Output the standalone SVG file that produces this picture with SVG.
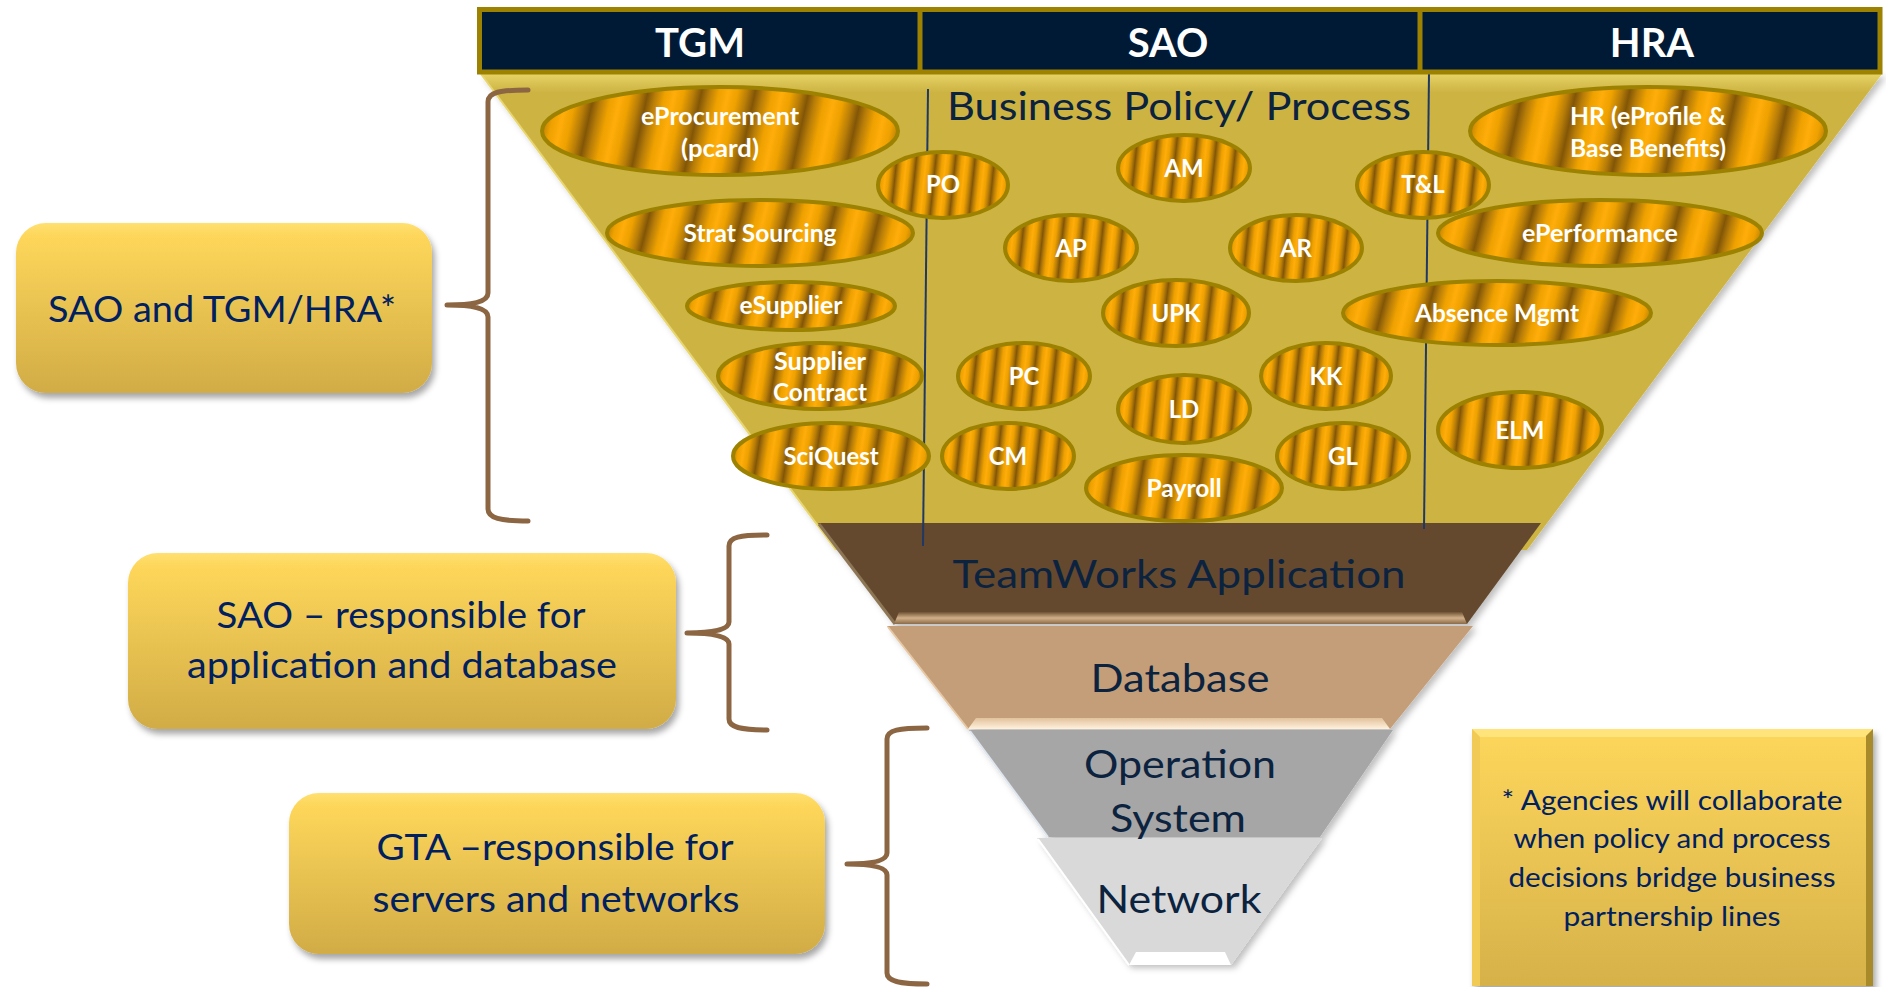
<svg xmlns="http://www.w3.org/2000/svg" width="1886" height="987" viewBox="0 0 1886 987">
<defs>
  <linearGradient id="metal" x1="0" y1="0" x2="0.075" y2="0.004" spreadMethod="reflect">
    <stop offset="0" stop-color="#825607"/>
    <stop offset="0.3" stop-color="#b97e08"/>
    <stop offset="0.65" stop-color="#eea100"/>
    <stop offset="1" stop-color="#ffad0a"/>
  </linearGradient>
  <linearGradient id="goldFunnel" gradientUnits="userSpaceOnUse" x1="0" y1="74" x2="0" y2="92">
    <stop offset="0" stop-color="#e6d266"/>
    <stop offset="1" stop-color="#cdb443"/>
  </linearGradient>
  <linearGradient id="boxg" x1="0" y1="0" x2="0" y2="1">
    <stop offset="0" stop-color="#ffe070"/>
    <stop offset="0.08" stop-color="#fdd65a"/>
    <stop offset="1" stop-color="#d1ac46"/>
  </linearGradient>
  <linearGradient id="noteg" x1="0" y1="0" x2="0" y2="1">
    <stop offset="0" stop-color="#fdd75b"/>
    <stop offset="1" stop-color="#d6b14a"/>
  </linearGradient>
  <linearGradient id="brownBevel" x1="0" y1="0" x2="0" y2="1">
    <stop offset="0" stop-color="#6e5234"/>
    <stop offset="0.5" stop-color="#d2b08a"/>
    <stop offset="1" stop-color="#8a6a48"/>
  </linearGradient>
  <linearGradient id="dbBevel" x1="0" y1="0" x2="0" y2="1">
    <stop offset="0" stop-color="#e2c29c"/>
    <stop offset="1" stop-color="#fff1dc"/>
  </linearGradient>
  <filter id="shadow" x="-10%" y="-10%" width="130%" height="140%">
    <feDropShadow dx="3" dy="5" stdDeviation="3" flood-color="#000" flood-opacity="0.35"/>
  </filter>
  <filter id="fshadow" x="-5%" y="-5%" width="115%" height="115%">
    <feDropShadow dx="4" dy="3" stdDeviation="3" flood-color="#000" flood-opacity="0.25"/>
  </filter>
  <style>
    .hdr { font-family: Lato, "Liberation Sans", sans-serif; font-weight: bold; font-size: 40px; fill: #ffffff; text-anchor: middle; }
    .lay { font-family: Lato, "Liberation Sans", sans-serif; font-size: 39px; fill: #0c2340; text-anchor: middle; }
    .ell { fill: url(#metal); stroke: #9c8200; stroke-width: 4; }
    .et { font-family: Lato, "Liberation Sans", sans-serif; font-weight: bold; font-size: 24px; fill: #ffffff; text-anchor: middle; }
    .box { fill: url(#boxg); filter: url(#shadow); }
    .bt { font-family: Lato, "Liberation Sans", sans-serif; font-size: 36px; fill: #002060; text-anchor: middle; }
    .nt { font-family: Lato, "Liberation Sans", sans-serif; font-size: 26px; fill: #002060; text-anchor: middle; }
    .brace { fill: none; stroke: #8c6642; stroke-width: 5; stroke-linecap: round; stroke-linejoin: round; }
    .vline { stroke: #1f3864; stroke-width: 2; }
  </style>
</defs>

<rect width="1886" height="987" fill="#ffffff"/>

<!-- Funnel layers -->
<g id="funnel" filter="url(#fshadow)">
  <g id="layer-business">
    <polygon points="481,74 1882,74 1527,550 836,550" fill="url(#goldFunnel)"/>
    <line x1="481" y1="74" x2="836" y2="550" stroke="#e8d670" stroke-width="2"/>
  </g>
  <g id="layer-application">
    <polygon points="818,523 1541,523 1467,624 894,624" fill="#654a2e"/>
    <line x1="819" y1="524" x2="895" y2="624" stroke="#8d7656" stroke-width="3"/>
    <polygon points="899,612 1462,612 1467,624 894,624" fill="url(#brownBevel)"/>
  </g>
  <g id="layer-database">
    <polygon points="887,626 1473,626 1390,729 968,729" fill="#c49e78"/>
    <line x1="888" y1="627" x2="968" y2="729" stroke="#e6c8a4" stroke-width="2"/>
    <polygon points="976,718 1382,718 1390,729 968,729" fill="url(#dbBevel)"/>
  </g>
  <g id="layer-os">
    <polygon points="969,730 1393,730 1320,837 1048,837" fill="#a6a6a6"/>
    <line x1="970" y1="731" x2="1048" y2="837" stroke="#dfe6ee" stroke-width="2"/>
  </g>
  <g id="layer-network">
    <polygon points="1037,838 1322,838 1231,965 1129,965" fill="#d9d9d9"/>
    <line x1="1038" y1="839" x2="1129" y2="965" stroke="#ffffff" stroke-width="2"/>
    <polygon points="1136,952 1225,952 1231,965 1129,965" fill="#ffffff"/>
  </g>
</g>

<!-- Partnership lines -->
<g id="partnership-lines">
  <line class="vline" x1="928" y1="89" x2="923" y2="546"/>
  <line class="vline" x1="1429" y1="73" x2="1424" y2="529"/>
</g>

<!-- Header -->
<g id="header">
  <rect x="479.5" y="9.5" width="1400.5" height="62.5" fill="#001a35" stroke="#9c8200" stroke-width="5"/>
  <line x1="920" y1="9" x2="920" y2="72" stroke="#9c8200" stroke-width="5"/>
  <line x1="1420" y1="9" x2="1420" y2="72" stroke="#9c8200" stroke-width="5"/>
  <text class="hdr" x="700" y="57">TGM</text>
  <text class="hdr" x="1168" y="57">SAO</text>
  <text class="hdr" x="1652" y="57">HRA</text>
</g>

<!-- Layer labels -->
<g id="layer-labels">
  <text class="lay" x="1179" y="120" textLength="464" lengthAdjust="spacingAndGlyphs">Business Policy/ Process</text>
  <text class="lay" x="1179" y="588" textLength="453" lengthAdjust="spacingAndGlyphs">TeamWorks Application</text>
  <text class="lay" x="1180" y="692" textLength="179" lengthAdjust="spacingAndGlyphs">Database</text>
  <text class="lay" x="1180" y="778" textLength="192" lengthAdjust="spacingAndGlyphs">Operation</text>
  <text class="lay" x="1178" y="832" textLength="136" lengthAdjust="spacingAndGlyphs">System</text>
  <text class="lay" x="1179" y="913" textLength="165" lengthAdjust="spacingAndGlyphs">Network</text>
</g>

<!-- Process ellipses -->
<g id="n-eprocurement"><ellipse class="ell" cx="720" cy="131" rx="178" ry="44"/>
  <text class="et" x="720" y="125" textLength="158" lengthAdjust="spacingAndGlyphs">eProcurement</text>
  <text class="et" x="720" y="157" textLength="78" lengthAdjust="spacingAndGlyphs">(pcard)</text></g>
<g id="n-stratsourcing"><ellipse class="ell" cx="760" cy="233" rx="153" ry="33"/>
  <text class="et" x="760" y="242" textLength="153" lengthAdjust="spacingAndGlyphs">Strat Sourcing</text></g>
<g id="n-esupplier"><ellipse class="ell" cx="791" cy="306" rx="104" ry="24"/>
  <text class="et" x="791" y="314" textLength="103" lengthAdjust="spacingAndGlyphs">eSupplier</text></g>
<g id="n-suppliercontract"><ellipse class="ell" cx="820" cy="376" rx="102" ry="33"/>
  <text class="et" x="820" y="370" textLength="92" lengthAdjust="spacingAndGlyphs">Supplier</text>
  <text class="et" x="820" y="401" textLength="94" lengthAdjust="spacingAndGlyphs">Contract</text></g>
<g id="n-sciquest"><ellipse class="ell" cx="831" cy="456" rx="98" ry="33"/>
  <text class="et" x="831" y="465" textLength="95" lengthAdjust="spacingAndGlyphs">SciQuest</text></g>
<g id="n-po"><ellipse class="ell" cx="943" cy="185" rx="65" ry="33"/>
  <text class="et" x="943" y="193">PO</text></g>
<g id="n-am"><ellipse class="ell" cx="1184" cy="168" rx="66" ry="33"/>
  <text class="et" x="1184" y="177">AM</text></g>
<g id="n-ap"><ellipse class="ell" cx="1071" cy="248" rx="66" ry="33"/>
  <text class="et" x="1071" y="257">AP</text></g>
<g id="n-ar"><ellipse class="ell" cx="1296" cy="248" rx="66" ry="33"/>
  <text class="et" x="1296" y="257">AR</text></g>
<g id="n-tl"><ellipse class="ell" cx="1423" cy="185" rx="66" ry="33"/>
  <text class="et" x="1423" y="193">T&amp;L</text></g>
<g id="n-upk"><ellipse class="ell" cx="1176" cy="313" rx="73" ry="33"/>
  <text class="et" x="1176" y="322">UPK</text></g>
<g id="n-pc"><ellipse class="ell" cx="1024" cy="376" rx="66" ry="33"/>
  <text class="et" x="1024" y="385">PC</text></g>
<g id="n-kk"><ellipse class="ell" cx="1326" cy="376" rx="65" ry="33"/>
  <text class="et" x="1326" y="385">KK</text></g>
<g id="n-ld"><ellipse class="ell" cx="1184" cy="409" rx="66" ry="34"/>
  <text class="et" x="1184" y="418">LD</text></g>
<g id="n-cm"><ellipse class="ell" cx="1008" cy="456" rx="66" ry="33"/>
  <text class="et" x="1008" y="465">CM</text></g>
<g id="n-gl"><ellipse class="ell" cx="1343" cy="456" rx="66" ry="33"/>
  <text class="et" x="1343" y="465">GL</text></g>
<g id="n-payroll"><ellipse class="ell" cx="1184" cy="488" rx="98" ry="33"/>
  <text class="et" x="1184" y="497" textLength="75" lengthAdjust="spacingAndGlyphs">Payroll</text></g>
<g id="n-hr"><ellipse class="ell" cx="1648" cy="131" rx="178" ry="44"/>
  <text class="et" x="1648" y="125" textLength="156" lengthAdjust="spacingAndGlyphs">HR (eProfile &amp;</text>
  <text class="et" x="1648" y="157" textLength="156" lengthAdjust="spacingAndGlyphs">Base Benefits)</text></g>
<g id="n-eperformance"><ellipse class="ell" cx="1600" cy="233" rx="162" ry="33"/>
  <text class="et" x="1600" y="242" textLength="156" lengthAdjust="spacingAndGlyphs">ePerformance</text></g>
<g id="n-absence"><ellipse class="ell" cx="1497" cy="313" rx="154" ry="32"/>
  <text class="et" x="1497" y="322" textLength="164" lengthAdjust="spacingAndGlyphs">Absence Mgmt</text></g>
<g id="n-elm"><ellipse class="ell" cx="1520" cy="430" rx="82" ry="38"/>
  <text class="et" x="1520" y="439">ELM</text></g>

<!-- Responsibility boxes -->
<g id="box-sao-tgm-hra">
  <rect class="box" x="16" y="223" width="416" height="170" rx="30"/>
  <text class="bt" x="222" y="322" textLength="348" lengthAdjust="spacingAndGlyphs">SAO and TGM/HRA*</text>
</g>
<g id="box-sao">
  <rect class="box" x="128" y="553" width="548" height="176" rx="30"/>
  <text class="bt" x="401" y="628" textLength="369" lengthAdjust="spacingAndGlyphs">SAO – responsible for</text>
  <text class="bt" x="402" y="678" textLength="430" lengthAdjust="spacingAndGlyphs">application and database</text>
</g>
<g id="box-gta">
  <rect class="box" x="289" y="793" width="536" height="161" rx="30"/>
  <text class="bt" x="555" y="860" textLength="357" lengthAdjust="spacingAndGlyphs">GTA –responsible for</text>
  <text class="bt" x="556" y="912" textLength="367" lengthAdjust="spacingAndGlyphs">servers and networks</text>
</g>
<g id="note">
  <rect x="1472" y="729" width="401" height="257" fill="url(#noteg)" filter="url(#shadow)"/>
  <polygon points="1472,729 1873,729 1865,737 1480,737" fill="#ffe47c"/>
  <polygon points="1472,729 1480,737 1480,986 1472,986" fill="#f1c955"/>
  <polygon points="1873,729 1873,986 1866,986 1866,736" fill="#a88a2a"/>
  <text class="nt" x="1672" y="810" textLength="341" lengthAdjust="spacingAndGlyphs">* Agencies will collaborate</text>
  <text class="nt" x="1672" y="848" textLength="317" lengthAdjust="spacingAndGlyphs">when policy and process</text>
  <text class="nt" x="1672" y="887" textLength="327" lengthAdjust="spacingAndGlyphs">decisions bridge business</text>
  <text class="nt" x="1672" y="926" textLength="217" lengthAdjust="spacingAndGlyphs">partnership lines</text>
</g>

<!-- Braces (connectors) -->
<g id="connectors">
  <path class="brace" d="M 528,90 C 500,90 488,92 488,102 L 488,293 C 488,302 472,305 447,305 C 472,305 488,308 488,317 L 488,509 C 488,518 500,521 528,521"/>
  <path class="brace" d="M 767,535 C 740,535 729,537 729,546 L 729,622 C 729,630 712,633 687,633 C 712,633 729,636 729,644 L 729,719 C 729,727 740,730 767,730"/>
  <path class="brace" d="M 927,728 C 899,728 887,730 887,739 L 887,853 C 887,861 871,864 847,864 C 871,864 887,867 887,875 L 887,973 C 887,981 899,984 927,984"/>
</g>
</svg>
